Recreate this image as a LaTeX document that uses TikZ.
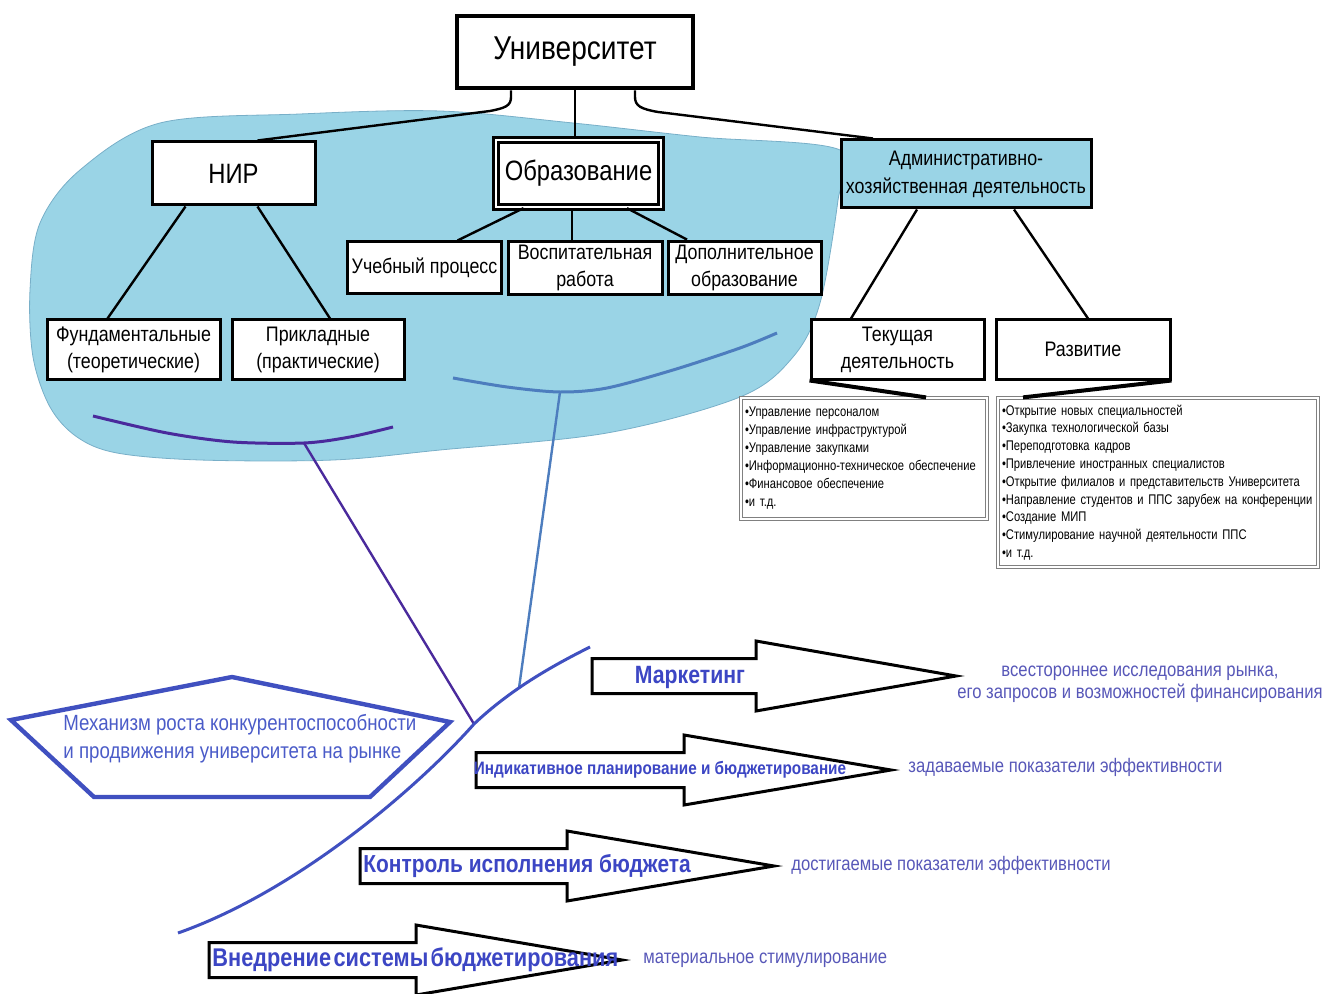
\documentclass[tikz,border=0pt]{standalone}
\usepackage{fontspec}
\setmainfont{Liberation Sans}[FakeStretch=0.85]
\newfontfamily\listfont{Liberation Sans}[FakeStretch=0.8]
\usetikzlibrary{backgrounds}
\definecolor{blobblue}{HTML}{9AD4E6}
\definecolor{blobedge}{HTML}{78AFC8}
\definecolor{arcpurple}{HTML}{4A2A9C}
\definecolor{arcsteel}{HTML}{4D7DBE}
\definecolor{royal}{HTML}{4050C0}
\definecolor{mechtext}{HTML}{4A5BC8}
\definecolor{arrowtext}{HTML}{3C46C4}
\definecolor{restext}{HTML}{5757B8}
\tikzset{
    plain-box/.style = {draw, fill=white, line width=1.5pt, rectangle, inner sep=2pt, align=center, font=\fontsize{10.5}{13.5}\selectfont},
    top-box/.style = {plain-box, line width=2.3pt, font=\fontsize{16.5}{18}\selectfont},
    double-box/.style = {plain-box, line width=1.2pt, double=white, double distance=1.2pt, font=\fontsize{14}{16}\selectfont},
    list-box/.style = {draw=gray, fill=white, line width=0.6pt, double=white, double distance=0.9pt, rectangle, inner xsep=2pt, align=left},
    link/.style = {draw, line width=1.2pt},
    block-arrow/.style = {draw, fill=white, line width=1.5pt, line join=miter},
    arrow-text/.style = {text=arrowtext, inner sep=0pt},
    res-text/.style = {text=restext, inner sep=0pt, font=\fontsize{9.8}{11}\selectfont},
}

\begin{document}
\begin{tikzpicture}[x=0.5pt, y=-0.5pt]
\useasboundingbox (0,0) rectangle (1326,994);

% hierarchy
\node[top-box, minimum width=118pt, minimum height=36pt] (univ) at (575,52) {Университет};
\node[plain-box, minimum width=81.5pt, minimum height=31.5pt, font=\fontsize{14}{16}\selectfont] (nir) at (233.5,173.5) {НИР};
\node[double-box, minimum width=82.5pt, minimum height=33.5pt] (edu) at (578.5,173.5) {Образование};
\node[plain-box, fill=blobblue, minimum width=125pt, minimum height=34pt, font=\fontsize{10.5}{14}\selectfont] (admin) at (966,174) {Административно-\\хозяйственная деятельность};

\node[plain-box, minimum width=86.5pt, minimum height=29.5pt] (fund) at (133.5,349.5) {Фундаментальные\\(теоретические)};
\node[plain-box, minimum width=86pt, minimum height=29.5pt] (appl) at (318,349.5) {Прикладные\\(практические)};
\node[plain-box, minimum width=76.5pt, minimum height=26pt] (study) at (424.5,268) {Учебный процесс};
\node[plain-box, minimum width=77pt, minimum height=26pt] (upbr) at (585,268) {Воспитательная\\работа};
\node[plain-box, minimum width=76.5pt, minimum height=26pt] (extra) at (744.5,268) {Дополнительное\\образование};
\node[plain-box, minimum width=86.5pt, minimum height=29.5pt] (current) at (897.5,349.5) {Текущая\\деятельность};
\node[plain-box, minimum width=87pt, minimum height=29.5pt] (devel) at (1083,349.5) {Развитие};

\node[list-box, text width=119pt, minimum height=60.5pt, font=\listfont\fontsize{7}{9}\selectfont] (cur-list) at (864,458.5) {%
•Управление персоналом\\
•Управление инфраструктурой\\
•Управление закупками\\
•Информационно-техническое обеспечение\\
•Финансовое обеспечение\\
•и т.д.};
\node[list-box, text width=156pt, minimum height=84.5pt, font=\listfont\fontsize{7}{8.9}\selectfont] (dev-list) at (1158,482.5) {%
•Открытие новых специальностей\\
•Закупка технологической базы\\
•Переподготовка кадров\\
•Привлечение иностранных специалистов\\
•Открытие филиалов и представительств Университета\\
•Направление студентов и ППС зарубеж на конференции\\
•Создание МИП\\
•Стимулирование научной деятельности ППС\\
•и т.д.};

% connectors
\draw[link] ([xshift=-32pt]univ.south) -- (511,97) .. controls (511,106) and (505,108) .. (490,111) -- ([xshift=12pt]nir.north);
\draw[link] (univ.south) -- (univ.south |- edu.north);
\draw[link] ([xshift=30pt]univ.south) -- (635,97) .. controls (635,106) and (641,109) .. (658,112) -- ([xshift=-46.5pt]admin.north);
\draw[link] ([xshift=-24pt]nir.south) -- ([xshift=-13pt]fund.north);
\draw[link] ([xshift=12pt]nir.south) -- ([xshift=6pt]appl.north);
\draw[link] ([xshift=-27.5pt]edu.south) -- ([xshift=16.5pt]study.north);
\draw[link] ([xshift=-3.25pt]edu.south) -- ([xshift=-6.5pt]upbr.north);
\draw[link] ([xshift=24.25pt]edu.south) -- ([xshift=-28.75pt]extra.north);
\draw[link] ([xshift=-24.5pt]admin.south) -- ([xshift=-23.25pt]current.north);
\draw[link] ([xshift=24pt]admin.south) -- ([xshift=2.5pt]devel.north);
\draw[link, line width=2pt] (current.south west) -- ([xshift=31pt]cur-list.north);
\draw[link, line width=2pt] (devel.south east) -- ([xshift=-67.5pt]dev-list.north);

% light blue area
\begin{scope}[on background layer]
\filldraw[fill=blobblue, draw=blobedge, line width=0.4pt] plot[smooth cycle, tension=0.55] coordinates {
  (160,123) (300,114) (440,111) (573,123) (700,137) (840,150) (838,200) (820,303) (793,357)
  (740,397) (607,433) (440,450) (333,460) (200,460) (117,453) (77,437) (50,407) (33,357)
  (30,290) (40,223) (80,170)};
\end{scope}

% arcs and spine
\coordinate (nir-arc) at (304,443);
\coordinate (edu-arc) at (560,392);
\coordinate (spine-a) at (474,724);
\coordinate (spine-b) at (519,688);
\draw[arcpurple, line width=1.5pt] plot[smooth] coordinates {(93,416) (167,433) (233,442) (304,443) (350,437) (393,427)};
\draw[arcsteel, line width=1.5pt] plot[smooth] coordinates {(453,378) (507,387) (560,392) (607,388) (673,370) (740,348) (777,333)};
\draw[arcpurple, line width=1.2pt] (nir-arc) -- (spine-a);
\draw[arcsteel, line width=1.2pt] (edu-arc) -- (spine-b);
\draw[royal, line width=1.5pt] (178,933) .. controls (300,890) and (420,785) .. (spine-a) .. controls (510,690) and (550,667) .. (590,647);

% mechanism
\draw[royal, line width=2.2pt, line join=miter] (232,677) -- (450,722) -- (370,797) -- (94,797) -- (11,720) -- cycle;
\node[text=mechtext, anchor=west, align=left, inner sep=0pt, font=\fontsize{11}{14}\selectfont] (mech) at (63,739) {Механизм роста конкурентоспособности\\и продвижения университета на рынке};

% block arrows
\foreach \xa/\xb/\xc/\yc in {592/756/956/676, 476/684/891/770, 360/567/774/866, 209/416/622/960}
  \draw[block-arrow] (\xa,\yc-17.5) -- (\xb,\yc-17.5) -- (\xb,\yc-35) -- (\xc,\yc) -- (\xb,\yc+35) -- (\xb,\yc+17.5) -- (\xa,\yc+17.5) -- cycle;
\node[arrow-text, font=\bfseries\fontsize{12.5}{14}\selectfont] (marketing) at (690,677) {Маркетинг};
\node[arrow-text, font=\bfseries\fontsize{9}{11}\selectfont] (planning) at (660,770) {Индикативное планирование и бюджетирование};
\node[arrow-text, anchor=west, font=\bfseries\fontsize{12.3}{14}\selectfont] (control) at (363,866) {Контроль исполнения бюджета};
\node[arrow-text, anchor=west, font=\bfseries\fontsize{12.8}{14}\selectfont] (budgeting) at (212,960) {\spaceskip=1.2pt\relax Внедрение системы бюджетирования};

% results
\node[res-text, align=center] (market-res) at (1140,684) {всестороннее исследования рынка,\\его запросов и возможностей\ финансирования};
\node[res-text, anchor=west] (plan-res) at (908,767) {задаваемые показатели эффективности};
\node[res-text, anchor=west] (control-res) at (791,865) {достигаемые показатели эффективности};
\node[res-text, anchor=west] (budget-res) at (643,960) {материальное стимулирование};
\end{tikzpicture}
\end{document}
